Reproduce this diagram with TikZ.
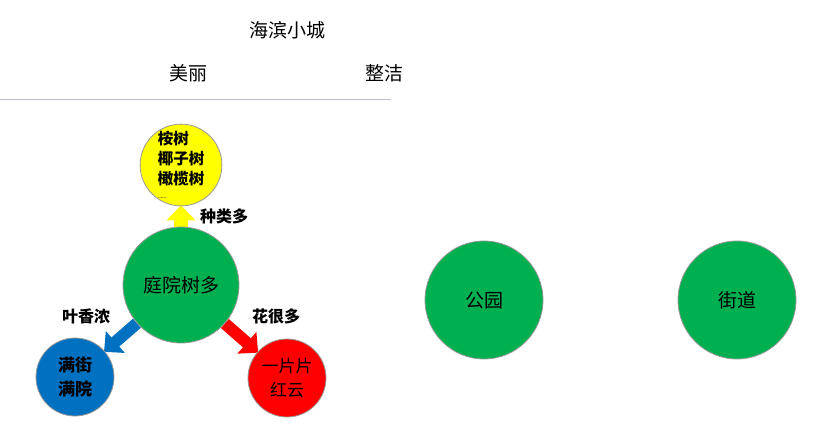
\documentclass[tikz,border=0pt]{standalone}
\usepackage{fontspec}
\setmainfont{Noto Sans CJK SC}
\usetikzlibrary{arrows.meta,backgrounds}
\definecolor{cgreen}{RGB}{0,176,80}
\definecolor{cblue}{RGB}{0,112,192}
\definecolor{cred}{RGB}{255,0,0}
\definecolor{cyellow}{RGB}{255,255,0}
\definecolor{cline}{RGB}{190,190,205}
\tikzset{
  ball/.style={circle, draw=gray!80, line width=0.8pt, inner sep=0pt, align=center},
  plain/.style={font=\fontsize{19}{22}\selectfont},
  lbl/.style={font=\bfseries\fontsize{16}{19}\selectfont},
  blockarrow/.style={line width=13pt, draw=#1, -{Triangle[width=28pt,length=15pt]}, shorten >=-1pt},
}
\begin{document}
\begin{tikzpicture}[x=1pt,y=-1pt]
\useasboundingbox (0,0) rectangle (829,441);
% header
\node[plain] (title) at (287,30) {海滨小城};
\node[plain] (beauty) at (188,73) {美丽};
\node[plain] (clean) at (384,73) {整洁};
\coordinate (l0) at (0,100);
\coordinate (l1) at (391,100);
\draw[cline, line width=1pt] (l0) -- (l1);
% circles
\node[ball, fill=cgreen, minimum size=116pt, font=\fontsize{19}{22}\selectfont] (yard) at (181,285) {庭院树多};
\node[ball, fill=cyellow, minimum size=80pt, align=left, font=\bfseries\fontsize{15.5}{20}\selectfont] (tree) at (181,165) {桉树\\椰子树\\橄榄树\\[-6pt]{\fontsize{4}{5}\selectfont ……}};
\node[ball, fill=cblue, minimum size=78pt, font=\bfseries\fontsize{17}{24}\selectfont] (street) at (75,377) {满街\\满院};
\node[ball, fill=cred, minimum size=78pt, font=\fontsize{17}{24}\selectfont] (cloud) at (287,378) {一片片\\红云};
\node[ball, fill=cgreen, minimum size=118pt, font=\fontsize{19}{22}\selectfont] (park) at (484,300) {公园};
\node[ball, fill=cgreen, minimum size=118pt, font=\fontsize{19}{22}\selectfont] (road) at (737,300) {街道};
% arrows behind circles
\begin{scope}[on background layer]
\draw[blockarrow=cyellow, line width=14pt] (yard.north) -- (tree.south);
\draw[blockarrow=cblue, line width=12pt] (yard) -- (street);
\draw[blockarrow=cred, line width=12pt] (yard) -- (cloud);
\end{scope}
% labels
\node[lbl] (kinds) at (224,216) {种类多};
\node[lbl] (scent) at (86,316) {叶香浓};
\node[lbl] (flowers) at (276,316) {花很多};
\end{tikzpicture}
\end{document}
